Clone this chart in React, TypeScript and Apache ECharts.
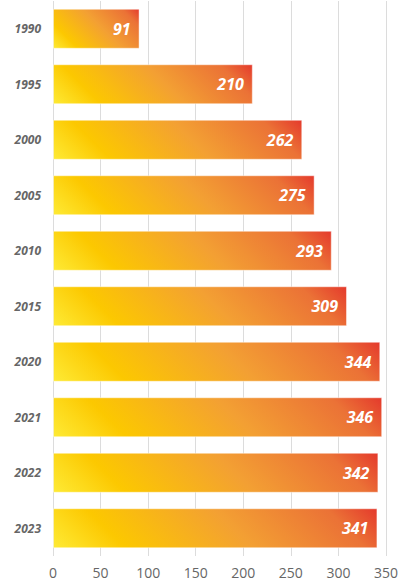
import React, { useEffect, useRef } from "react";
import * as echarts from "echarts";

const categories = ["1990", "1995", "2000", "2005", "2010", "2015", "2020", "2021", "2022", "2023"];
const values = [91, 210, 262, 275, 293, 309, 344, 346, 342, 341];
const xTicks = { min: 0, max: 350, interval: 50 };

const BAR_W = 40;
const stops = [
  { offset: 0, color: "#FEEB36" },
  { offset: 0.2, color: "#FCC800" },
  { offset: 0.55, color: "#F3A033" },
  { offset: 0.86, color: "#EB7236" },
  { offset: 1, color: "#E4382C" },
];

export default function App() {
  const ref = useRef<HTMLDivElement>(null);
  useEffect(() => {
    if (!ref.current) return;
    const chart = echarts.init(ref.current, undefined, { renderer: "svg" });
    const base: any = {
      animation: false,
      grid: { left: 53, right: 13, top: 1, bottom: 27, containLabel: false },
      xAxis: {
        type: "value",
        min: xTicks.min,
        max: xTicks.max,
        interval: xTicks.interval,
        axisLine: { show: false },
        axisTick: { show: false },
        splitLine: { lineStyle: { color: "#dcdcdc" } },
        axisLabel: { color: "#666", fontSize: 14, fontFamily: "Open Sans", margin: 9 },
      },
      yAxis: {
        type: "category",
        data: categories,
        inverse: true,
        axisLine: { show: false },
        axisTick: { show: false },
        axisLabel: {
          color: "#666",
          fontSize: 12,
          fontWeight: "bold",
          fontStyle: "italic",
          fontFamily: "Open Sans",
          margin: 12,
        },
      },
      series: [
        {
          type: "bar",
          data: values,
          barWidth: BAR_W,
          itemStyle: { color: "#F3A032", borderColor: "rgba(255,255,255,0.45)", borderWidth: 1 },
          label: {
            show: true,
            position: "insideRight",
            distance: 9,
            color: "#fff",
            fontSize: 16,
            fontWeight: "bold",
            fontStyle: "italic",
            fontFamily: "Open Sans",
          },
        },
      ],
    };
    chart.setOption(base);
    const x0 = chart.convertToPixel({ xAxisIndex: 0 }, 0) as number;
    const data = values.map((v, i) => {
      const x1 = chart.convertToPixel({ xAxisIndex: 0 }, v) as number;
      const yc = chart.convertToPixel({ yAxisIndex: 0 }, i) as number;
      const w = x1 - x0;
      const yb = yc + BAR_W / 2;
      const d = (w + BAR_W) / 2;
      return {
        value: v,
        itemStyle: {
          color: new echarts.graphic.LinearGradient(x0, yb, x0 + d, yb - d, stops, true),
        },
      };
    });
    chart.setOption({ series: [{ data }] });
    return () => chart.dispose();
  }, []);
  return (
    <div
      ref={ref}
      style={{ position: "absolute", left: 0, top: 0, width: 401, height: 583 }}
    />
  );
}
